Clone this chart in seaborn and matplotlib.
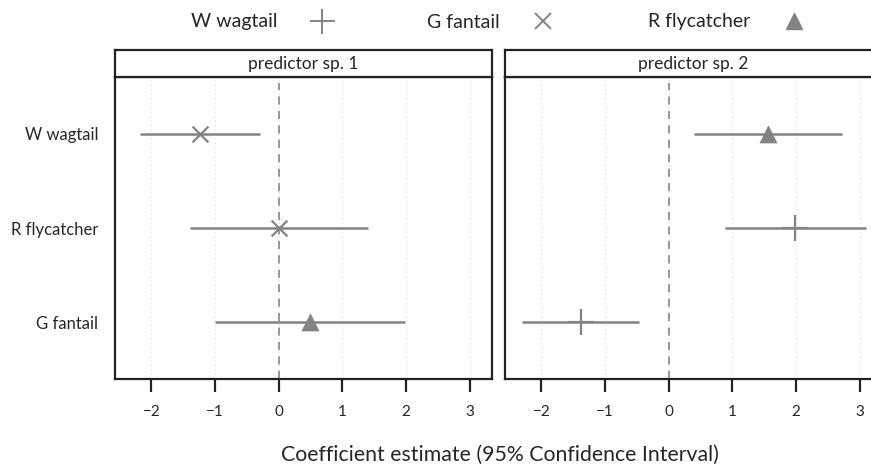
import matplotlib
matplotlib.use("Agg")
import matplotlib.pyplot as plt
import seaborn as sns
import pandas as pd
from matplotlib.lines import Line2D

sns.set_style("white")
plt.rcParams['font.family'] = ['Lato', 'DejaVu Sans']

# ---- data ----
rows = ["W wagtail", "R flycatcher", "G fantail"]
series_names = ["W wagtail", "G fantail", "R flycatcher"]
panels = ["predictor sp. 1", "predictor sp. 2"]

p1_series = ["G fantail", "G fantail", "R flycatcher"]
p1_est = [-1.24, 0.0, 0.49]
p1_lo = [-2.18, -1.39, -1.00]
p1_hi = [-0.29, 1.41, 1.99]

p2_series = ["R flycatcher", "W wagtail", "W wagtail"]
p2_est = [1.56, 1.99, -1.38]
p2_lo = [0.39, 0.89, -2.30]
p2_hi = [2.72, 3.10, -0.46]

xticks = [-2, -1, 0, 1, 2, 3]

df = pd.concat([
    pd.DataFrame({"panel": panels[0], "row": rows, "series": p1_series,
                  "est": p1_est, "lo": p1_lo, "hi": p1_hi}),
    pd.DataFrame({"panel": panels[1], "row": rows, "series": p2_series,
                  "est": p2_est, "lo": p2_lo, "hi": p2_hi}),
], ignore_index=True)
df["ypos"] = df["row"].map({r: i for i, r in enumerate(rows)})

W, H = 871, 466
fig = plt.figure(figsize=(W / 100, H / 100), dpi=100)

grey = "#838383"
markers = {"W wagtail": "+", "G fantail": "x", "R flycatcher": "^"}
msizes = {"W wagtail": 360, "G fantail": 130, "R flycatcher": 150}

def px(l, t, w, h):
    return [l / W, 1 - (t + h) / H, w / W, h / H]

ax_top, ax_bot = 77, 379
lefts = [115, 505]
pw = 377
for i, pname in enumerate(panels):
    ax = fig.add_axes(px(lefts[i], ax_top, pw, ax_bot - ax_top))
    sub = df[df["panel"] == pname]
    for x in xticks:
        ax.axvline(x, color="#d9d9d9", lw=0.8, ls=(0, (1, 3)), zorder=0)
    ax.axvline(0, color="#8f8f8f", lw=1.3, ls=(0, (4.5, 3.5)), zorder=1,
               ymax=0.98)
    ax.hlines(sub["ypos"], sub["lo"], sub["hi"], color=grey, lw=1.8, zorder=2)
    for s in series_names:
        ss = sub[sub["series"] == s]
        if len(ss) == 0:
            continue
        sns.scatterplot(data=ss, x="est", y="ypos", ax=ax, marker=markers[s],
                        s=msizes[s], color=grey, edgecolor=grey if s == "R flycatcher" else None,
                        linewidth=1.6 if s != "R flycatcher" else 0.5, zorder=3, legend=False)
    ax.set_xlim(-2.57, 3.35)
    ax.set_ylim(2.6, -0.6)
    ax.set_xticks(xticks)
    ax.set_xticklabels([f"{t}".replace("-", "\u2212") for t in xticks], fontsize=11)
    ax.tick_params(axis="x", direction="out", length=9, width=1.6, color="#222222",
                   pad=10, bottom=True)
    ax.set_xlabel("")
    ax.set_ylabel("")
    if i == 0:
        ax.set_yticks(range(len(rows)))
        ax.set_yticklabels(rows, fontsize=12)
        ax.tick_params(axis="y", length=0, pad=12)
    else:
        ax.set_yticks([])
    for sp in ax.spines.values():
        sp.set_color("#222222")
        sp.set_linewidth(1.6)
    # strip
    sax = fig.add_axes(px(lefts[i], 50, pw, ax_top - 50))
    sax.set_xticks([]); sax.set_yticks([])
    for sp in sax.spines.values():
        sp.set_color("#222222")
        sp.set_linewidth(1.6)
    sax.text(0.5, 0.5, pname, ha="center", va="center", fontsize=12.5,
             transform=sax.transAxes)

fig.text(500 / W, 1 - 455 / H, "Coefficient estimate (95% Confidence Interval)",
         ha="center", va="center", fontsize=15.3)

handles = []
for s in series_names:
    m = markers[s]
    if m == "^":
        h = Line2D([], [], marker="^", color=grey, ls="", markersize=12)
    elif m == "+":
        h = Line2D([], [], marker="+", color=grey, ls="", markersize=18, markeredgewidth=1.4)
    else:
        h = Line2D([], [], marker="x", color=grey, ls="", markersize=12, markeredgewidth=1.4)
    handles.append(h)
fig.legend(handles, series_names, loc="center", bbox_to_anchor=(500 / W, 1 - 22 / H),
           ncol=3, frameon=False, markerfirst=False, fontsize=14,
           columnspacing=4.65, handletextpad=1.5, handlelength=1.5)

fig.savefig("out.png", dpi=100)
